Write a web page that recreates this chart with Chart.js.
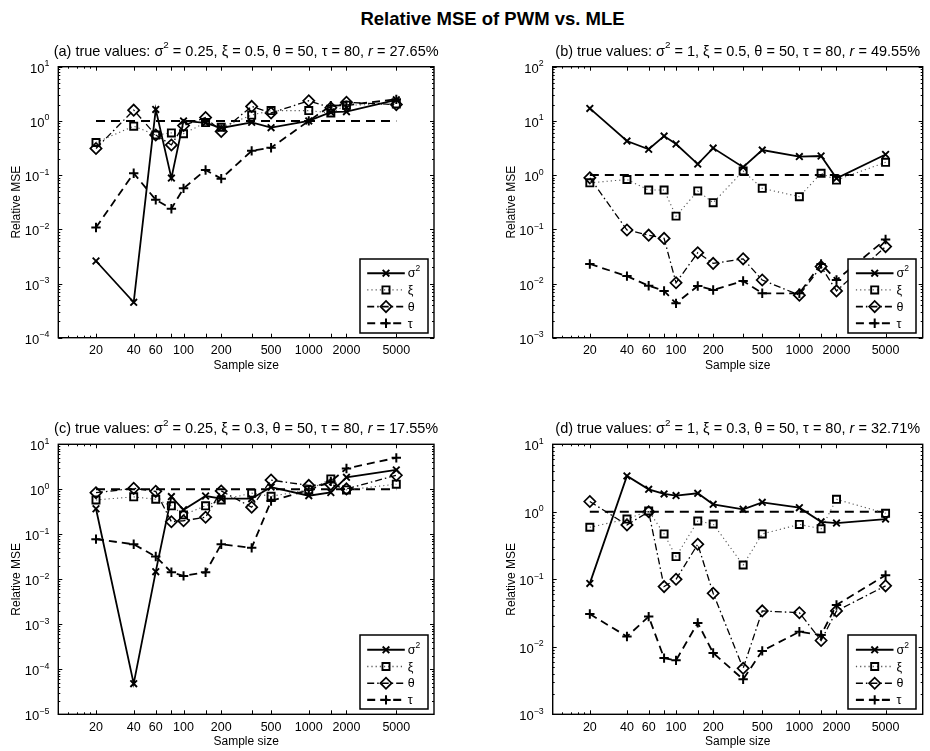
<!DOCTYPE html>
<html>
<head>
<meta charset="utf-8">
<title>Relative MSE of PWM vs. MLE</title>
<script src="https://cdn.jsdelivr.net/npm/chart.js@4.4.1/dist/chart.umd.min.js"></script>
<style>
  body { margin: 0; background: #fff; }
  #fig { position: relative; width: 930px; height: 751px; overflow: hidden; }
  #fig canvas { position: absolute; }
  #title {
    position: absolute; left: 0; top: 8px; width: 985px;
    text-align: center; line-height: 20px;
    font: bold 18.5px "Liberation Sans", Arial, sans-serif; color: #000;
  }
</style>
</head>
<body>
<div id="fig">
  <div id="title">Relative MSE of PWM vs. MLE</div>
  <canvas id="pa" width="465" height="375" style="left:0;top:0"></canvas>
  <canvas id="pb" width="465" height="375" style="left:465px;top:0"></canvas>
  <canvas id="pc" width="465" height="375" style="left:0;top:375px"></canvas>
  <canvas id="pd" width="465" height="375" style="left:465px;top:375px"></canvas>
</div>
<script>
const sampleSizes = [20, 40, 60, 80, 100, 150, 200, 350, 500, 1000, 1500, 2000, 5000];
const xTickValues = [20, 40, 60, 100, 200, 500, 1000, 2000, 5000];
const xTickLabels = ["20", "40", "60", "100", "200", "500", "1000", "2000", "5000"];
const refValue = 1;

// (a) sigma2 = 0.25, xi = 0.5
const sigma2A = [0.0026, 0.00045, 1.63, 0.088, 1.0, 0.92, 0.74, 0.94, 0.75, 1.0, 1.45, 1.48, 2.45];
const xiA = [0.40, 0.80, 0.55, 0.60, 0.58, 0.93, 0.76, 1.28, 1.55, 1.55, 1.40, 1.95, 2.05];
const thetaA = [0.31, 1.58, 0.55, 0.36, 0.82, 1.15, 0.64, 1.85, 1.40, 2.35, 1.75, 2.2, 2.0];
const tauA = [0.0108, 0.108, 0.035, 0.024, 0.057, 0.124, 0.086, 0.28, 0.32, 1.0, 1.9, 1.95, 2.5];
const yExpA = [-4, -3, -2, -1, 0, 1];

// (b) sigma2 = 1, xi = 0.5
const sigma2B = [17, 4.25, 3.0, 5.25, 3.75, 1.6, 3.15, 1.4, 2.9, 2.2, 2.25, 0.87, 2.4];
const xiB = [0.72, 0.83, 0.53, 0.53, 0.175, 0.51, 0.31, 1.19, 0.57, 0.40, 1.08, 0.81, 1.72];
const thetaB = [0.89, 0.097, 0.078, 0.068, 0.0103, 0.037, 0.0235, 0.0285, 0.0116, 0.0061, 0.0205, 0.0073, 0.048];
const tauB = [0.0229, 0.0137, 0.0091, 0.0073, 0.0043, 0.009, 0.0076, 0.0111, 0.0066, 0.0066, 0.023, 0.0116, 0.065];
const yExpB = [-3, -2, -1, 0, 1, 2];

// (c) sigma2 = 0.25, xi = 0.3
const sigma2C = [0.37, 0.000048, 0.0148, 0.69, 0.35, 0.71, 0.62, 0.62, 1.12, 0.72, 0.85, 1.85, 2.7];
const xiC = [0.58, 0.68, 0.6, 0.43, 0.27, 0.43, 0.58, 0.82, 0.7, 0.97, 1.7, 0.97, 1.3];
const thetaC = [0.84, 1.05, 0.9, 0.19, 0.2, 0.24, 0.92, 0.4, 1.6, 1.22, 1.28, 1.02, 2.05];
const tauC = [0.078, 0.06, 0.032, 0.0143, 0.0119, 0.0143, 0.06, 0.05, 0.55, 0.97, 1.5, 2.9, 5.0];
const yExpC = [-5, -4, -3, -2, -1, 0, 1];

// (d) sigma2 = 1, xi = 0.3
const sigma2D = [0.087, 3.4, 2.15, 1.84, 1.74, 1.88, 1.29, 1.09, 1.38, 1.15, 0.71, 0.68, 0.78];
const xiD = [0.59, 0.78, 1.03, 0.47, 0.217, 0.73, 0.66, 0.163, 0.47, 0.65, 0.56, 1.53, 0.95];
const thetaD = [1.42, 0.64, 1.0, 0.078, 0.1, 0.33, 0.062, 0.0048, 0.034, 0.032, 0.0124, 0.034, 0.08];
const tauD = [0.0306, 0.0142, 0.028, 0.0068, 0.0063, 0.0226, 0.0081, 0.0033, 0.0087, 0.0167, 0.015, 0.0417, 0.115];
const yExpD = [-3, -2, -1, 0, 1];

const FONT = '"Liberation Sans", Arial, Helvetica, sans-serif';

const seriesStyles = [
  { name: "σ", sup: "2", color: "#000", width: 1.8, dash: [], point: "crossRot", radius: 4.7, pw: 1.9 },
  { name: "ξ", sup: "", color: "#555", width: 1.1, dash: [1.2, 3], point: "rect", radius: 5, pw: 1.9 },
  { name: "θ", sup: "", color: "#000", width: 1.3, dash: [7, 3, 1.5, 3], point: "rectRot", radius: 5.6, pw: 1.7 },
  { name: "τ", sup: "", color: "#000", width: 1.8, dash: [8, 5], point: "cross", radius: 4.7, pw: 2 }
];

const toPoints = (values) => sampleSizes.map((x, i) => ({ x, y: values[i] }));

const drawRich = (ctx, parts, x, y, align, size) => {
  const fontOf = (p) => `${p.it ? "italic " : ""}${p.sup ? size * 0.68 : size}px ${FONT}`;
  let total = 0;
  const widths = parts.map((p) => {
    ctx.font = fontOf(p);
    const w = ctx.measureText(p.t).width;
    total += w;
    return w;
  });
  let cx = align === "center" ? x - total / 2 : align === "right" ? x - total : x;
  ctx.textAlign = "left";
  ctx.textBaseline = "alphabetic";
  parts.forEach((p, i) => {
    ctx.font = fontOf(p);
    ctx.fillText(p.t, cx, p.sup ? y - size * 0.5 : y);
    cx += widths[i];
  });
};

const drawMarker = (ctx, style, x, y) => {
  ctx.save();
  ctx.setLineDash([]);
  ctx.strokeStyle = "#000";
  ctx.fillStyle = "rgba(0,0,0,0)";
  ctx.lineWidth = style.pw;
  if (Chart.helpers && Chart.helpers.drawPoint) {
    Chart.helpers.drawPoint(ctx, { pointStyle: style.point, radius: style.radius, rotation: 0, borderWidth: style.pw }, x, y);
  }
  ctx.restore();
};

const axesFrame = {
  id: "axesFrame",
  afterDraw(chart, args, opts) {
    const { ctx, chartArea: a } = chart;
    const xs = chart.scales.x;
    const ys = chart.scales.y;
    ctx.save();
    ctx.fillStyle = "#000";
    ctx.strokeStyle = "#000";

    // ticks, pointing inward on all four sides
    ctx.lineWidth = 1;
    ctx.beginPath();
    const xTick = (v, len) => {
      const px = Math.round(xs.getPixelForValue(v)) + 0.5;
      ctx.moveTo(px, a.bottom); ctx.lineTo(px, a.bottom - len);
      ctx.moveTo(px, a.top); ctx.lineTo(px, a.top + len);
    };
    const yTick = (v, len) => {
      const py = Math.round(ys.getPixelForValue(v)) + 0.5;
      ctx.moveTo(a.left, py); ctx.lineTo(a.left + len, py);
      ctx.moveTo(a.right, py); ctx.lineTo(a.right - len, py);
    };
    sampleSizes.forEach((v) => xTick(v, 4));
    [12, 14, 16, 18].forEach((v) => xTick(v, 2));
    opts.yExp.forEach((e, i) => {
      yTick(Math.pow(10, e), 4);
      if (i < opts.yExp.length - 1) {
        for (let m = 2; m <= 9; m += 1) yTick(m * Math.pow(10, e), 2);
      }
    });
    ctx.stroke();

    ctx.lineWidth = 1.4;
    ctx.strokeRect(a.left, a.top, a.right - a.left, a.bottom - a.top);

    // x tick labels
    ctx.font = `12.5px ${FONT}`;
    ctx.textAlign = "center";
    ctx.textBaseline = "alphabetic";
    xTickValues.forEach((v, i) => {
      ctx.fillText(xTickLabels[i], xs.getPixelForValue(v), a.bottom + 16.5);
    });

    // y tick labels as 10^n
    opts.yExp.forEach((e) => {
      const py = ys.getPixelForValue(Math.pow(10, e));
      const ex = e < 0 ? "\u2212" + Math.abs(e) : String(e);
      drawRich(ctx, [{ t: "10" }, { t: ex, sup: true }], a.left - 9, py + 6, "right", 13);
    });

    // axis titles
    const cx = (a.left + a.right) / 2;
    const cy = (a.top + a.bottom) / 2;
    ctx.font = `12px ${FONT}`;
    ctx.textAlign = "center";
    ctx.fillText("Sample size", cx, a.bottom + 31);
    ctx.save();
    ctx.translate(a.left - 41.5, cy);
    ctx.rotate(-Math.PI / 2);
    ctx.textBaseline = "middle";
    ctx.fillText("Relative MSE", 0, 0);
    ctx.restore();

    // subplot title
    drawRich(ctx, opts.subtitle, cx, a.top - 11, "center", 14.5);

    // legend box
    const bw = 68, bh = 74;
    const bx = a.right - 6.5 - bw;
    const by = a.bottom - 5 - bh;
    ctx.fillStyle = "#fff";
    ctx.fillRect(bx, by, bw, bh);
    ctx.lineWidth = 1.5;
    ctx.strokeStyle = "#000";
    ctx.strokeRect(Math.round(bx), Math.round(by), bw, bh);
    seriesStyles.forEach((s, i) => {
      const ry = by + 14.5 + i * 16.7;
      ctx.save();
      ctx.strokeStyle = s.color;
      ctx.lineWidth = s.width + 0.3;
      ctx.setLineDash(s.dash);
      ctx.beginPath();
      ctx.moveTo(bx + 7.7, ry);
      ctx.lineTo(bx + 45.3, ry);
      ctx.stroke();
      ctx.restore();
      drawMarker(ctx, s, bx + 26.5, ry);
      ctx.fillStyle = "#000";
      const parts = [{ t: s.name }];
      if (s.sup) parts.push({ t: s.sup, sup: true });
      drawRich(ctx, parts, bx + 48.3, ry + 4.2, "left", 12.5);
    });
    ctx.restore();
  }
};

const buildDatasets = (series) => {
  const sets = series.map((values, i) => {
    const s = seriesStyles[i];
    return {
      label: s.name + s.sup,
      data: toPoints(values),
      borderColor: s.color,
      borderWidth: s.width,
      borderDash: s.dash,
      pointStyle: s.point,
      pointRadius: s.radius,
      pointBorderWidth: s.pw,
      pointBorderColor: "#000",
      pointBackgroundColor: "rgba(0,0,0,0)",
      fill: false,
      tension: 0
    };
  });
  sets.push({
    label: "ref",
    data: [
      { x: sampleSizes[0], y: refValue },
      { x: sampleSizes[sampleSizes.length - 1], y: refValue }
    ],
    borderColor: "#000",
    borderWidth: 2,
    borderDash: [9, 6],
    pointRadius: 0,
    fill: false
  });
  return sets;
};

const panels = [
  {
    id: "pa", area: { l: 58.3, t: 66.7, r: 434, b: 337.7 }, yExp: yExpA,
    series: [sigma2A, xiA, thetaA, tauA],
    subtitle: [{ t: "(a) true values: σ" }, { t: "2", sup: true }, { t: " = 0.25, ξ = 0.5, θ = 50, τ = 80, " }, { t: "r", it: true }, { t: " = 27.65%" }]
  },
  {
    id: "pb", area: { l: 87.7, t: 66.7, r: 463.5, b: 337.7 }, yExp: yExpB,
    series: [sigma2B, xiB, thetaB, tauB],
    subtitle: [{ t: "(b) true values: σ" }, { t: "2", sup: true }, { t: " = 1, ξ = 0.5, θ = 50, τ = 80, " }, { t: "r", it: true }, { t: " = 49.55%" }]
  },
  {
    id: "pc", area: { l: 58.3, t: 69.3, r: 434, b: 339.3 }, yExp: yExpC,
    series: [sigma2C, xiC, thetaC, tauC],
    subtitle: [{ t: "(c) true values: σ" }, { t: "2", sup: true }, { t: " = 0.25, ξ = 0.3, θ = 50, τ = 80, " }, { t: "r", it: true }, { t: " = 17.55%" }]
  },
  {
    id: "pd", area: { l: 87.7, t: 69.3, r: 463.5, b: 339.3 }, yExp: yExpD,
    series: [sigma2D, xiD, thetaD, tauD],
    subtitle: [{ t: "(d) true values: σ" }, { t: "2", sup: true }, { t: " = 1, ξ = 0.3, θ = 50, τ = 80, " }, { t: "r", it: true }, { t: " = 32.71%" }]
  }
];

for (const p of panels) {
  const canvas = document.getElementById(p.id);
  new Chart(canvas, {
    type: "line",
    data: { datasets: buildDatasets(p.series) },
    options: {
      responsive: false,
      animation: false,
      devicePixelRatio: 1,
      layout: {
        padding: {
          left: p.area.l,
          top: p.area.t,
          right: canvas.width - p.area.r,
          bottom: canvas.height - p.area.b
        }
      },
      scales: {
        x: { type: "logarithmic", min: 10, max: 10000, display: false },
        y: { type: "logarithmic", min: Math.pow(10, p.yExp[0]), max: Math.pow(10, p.yExp[p.yExp.length - 1]), display: false }
      },
      plugins: {
        legend: { display: false },
        tooltip: { enabled: false },
        axesFrame: { yExp: p.yExp, subtitle: p.subtitle }
      }
    },
    plugins: [axesFrame]
  });
}
</script>
</body>
</html>
